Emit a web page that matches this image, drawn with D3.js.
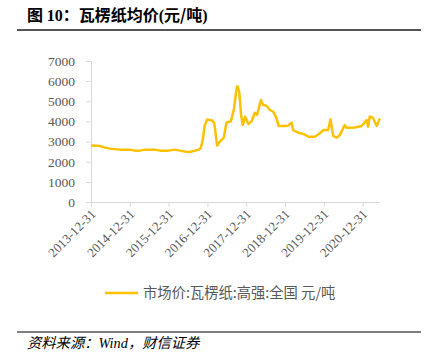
<!DOCTYPE html>
<html>
<head>
<meta charset="utf-8">
<script src="https://cdn.jsdelivr.net/npm/d3@7"></script>
<style>
  body { margin: 0; background: #fff; }
  svg text { font-family: "Liberation Serif", "Noto Sans CJK SC", serif; }
</style>
</head>
<body>
<div id="chart"></div>
<script>
const dates = [
  "2013-12-31", "2014-03-25", "2014-05-12", "2014-06-28", "2014-10-01", "2014-12-31",
  "2015-02-18", "2015-04-05", "2015-05-22", "2015-07-09", "2015-08-25", "2015-10-12",
  "2015-12-31", "2016-03-01", "2016-04-17", "2016-06-14", "2016-07-20", "2016-09-06",
  "2016-10-12", "2016-10-30", "2016-11-17", "2016-12-05", "2016-12-28", "2017-02-14",
  "2017-03-05", "2017-03-18", "2017-04-01", "2017-04-27", "2017-06-03", "2017-06-28",
  "2017-08-08", "2017-09-06", "2017-09-28", "2017-10-08", "2017-10-26", "2017-11-13",
  "2017-11-28", "2017-12-20", "2018-01-20", "2018-02-18", "2018-03-22", "2018-04-12",
  "2018-05-18", "2018-06-08", "2018-07-12", "2018-08-10", "2018-09-12", "2018-10-12",
  "2018-11-02", "2018-12-20", "2019-01-30", "2019-03-03", "2019-03-18", "2019-05-05",
  "2019-06-22", "2019-08-08", "2019-10-08", "2019-11-25", "2019-12-24", "2020-02-10",
  "2020-03-03", "2020-03-28", "2020-04-30", "2020-05-30", "2020-07-15", "2020-07-30",
  "2020-10-18", "2020-12-20", "2021-02-06", "2021-02-20", "2021-03-07", "2021-04-05",
  "2021-05-12", "2021-06-10"
];
const prices = [
  2800, 2780, 2700, 2650, 2600, 2600,
  2550, 2550, 2600, 2600, 2600, 2550,
  2550, 2600, 2550, 2500, 2480, 2550,
  2600, 2700, 3100, 3800, 4100, 4050,
  3900, 3400, 2800, 3000, 3200, 3950,
  4000, 4600, 5500, 5750, 5450, 4300,
  3820, 4240, 3870, 3990, 4430, 4320,
  5060, 4820, 4770, 4570, 4480, 4150,
  3770, 3770, 3790, 3940, 3570, 3440,
  3380, 3240, 3240, 3410, 3570, 3570,
  4110, 3280, 3190, 3330, 3820, 3690,
  3700, 3770, 4070, 3740, 4240, 4200,
  3770, 4150
];
const tickDates = ["2013-12-31", "2014-12-31", "2015-12-31", "2016-12-31",
  "2017-12-31", "2018-12-31", "2019-12-31", "2020-12-31"];
const yTicks = [0, 1000, 2000, 3000, 4000, 5000, 6000, 7000];

const parse = d3.timeParse("%Y-%m-%d");
const data = dates.map((d, i) => ({ date: parse(d), value: prices[i] }));

const width = 430, height = 361;
const svg = d3.select("#chart").append("svg")
  .attr("width", width).attr("height", height);

const serif = "'Liberation Serif', 'Times New Roman', serif";
const cjk = "'Noto Sans CJK SC', sans-serif";

// title + rule
const title = svg.append("text")
  .attr("x", 27).attr("y", 21)
  .attr("font-size", 16).attr("font-weight", "bold")
  .attr("fill", "#000");
title.append("tspan").style("font-family", cjk).text("图 ");
title.append("tspan").style("font-family", serif).text("10");
title.append("tspan").style("font-family", cjk).text("：瓦楞纸均价");
title.append("tspan").style("font-family", serif).text("(");
title.append("tspan").style("font-family", cjk).text("元/吨");
title.append("tspan").style("font-family", serif).text(")");
svg.append("line")
  .attr("x1", 17).attr("x2", 421).attr("y1", 30).attr("y2", 30)
  .attr("stroke", "#555").attr("stroke-width", 2);

const x = d3.scaleTime()
  .domain([parse("2013-12-31"), parse("2021-06-12")])
  .range([91, 380]);
const y = d3.scaleLinear().domain([0, 7000]).range([202, 61]);

const axisColor = "#d9d9d9";
const labelColor = "#595959";

// y axis
const yAxis = svg.append("g")
  .attr("transform", "translate(91,0)")
  .call(d3.axisLeft(y).tickValues(yTicks).tickFormat(d3.format("d"))
    .tickSize(5).tickPadding(11));
yAxis.attr("font-family", serif).attr("font-size", 13.5);
yAxis.select(".domain").attr("stroke", axisColor);
yAxis.selectAll(".tick line").attr("stroke", axisColor);
yAxis.selectAll(".tick text")
  .attr("fill", labelColor)
  .style("font-family", serif);

// x axis
const xAxis = svg.append("g")
  .attr("transform", "translate(0,202)")
  .call(d3.axisBottom(x).tickValues(tickDates.map(parse))
    .tickFormat(d3.timeFormat("%Y-%m-%d")).tickSize(5).tickSizeOuter(0));
xAxis.attr("font-family", serif).attr("font-size", 13);
xAxis.select(".domain").attr("stroke", axisColor);
xAxis.selectAll(".tick line").attr("stroke", axisColor);
xAxis.selectAll(".tick text")
  .attr("fill", labelColor)
  .style("font-family", serif)
  .attr("text-anchor", "end")
  .attr("dy", null)
  .attr("y", 0)
  .attr("transform", "translate(5,13) rotate(-45)");

// series line
svg.append("path")
  .datum(data)
  .attr("fill", "none")
  .attr("stroke", "#FFC000")
  .attr("stroke-width", 2.5)
  .attr("stroke-linejoin", "round")
  .attr("d", d3.line().x(d => x(d.date)).y(d => y(d.value)));

// legend
svg.append("line")
  .attr("x1", 105).attr("x2", 138).attr("y1", 293).attr("y2", 293)
  .attr("stroke", "#FFC000").attr("stroke-width", 2.5);
svg.append("text")
  .attr("x", 143).attr("y", 298)
  .attr("font-size", 14.3).attr("fill", labelColor)
  .style("font-family", cjk)
  .text("市场价:瓦楞纸:高强:全国 元/吨");

// source
svg.append("line")
  .attr("x1", 17).attr("x2", 421).attr("y1", 332).attr("y2", 332)
  .attr("stroke", "#000").attr("stroke-width", 1.2);
const src = svg.append("text")
  .attr("x", 27).attr("y", 348)
  .attr("font-size", 14.3).attr("font-style", "italic").attr("fill", "#000");
src.append("tspan").style("font-family", cjk).text("资料来源：");
src.append("tspan").style("font-family", serif).text("Wind");
src.append("tspan").style("font-family", cjk).text("，财信证券");
</script>
</body>
</html>
